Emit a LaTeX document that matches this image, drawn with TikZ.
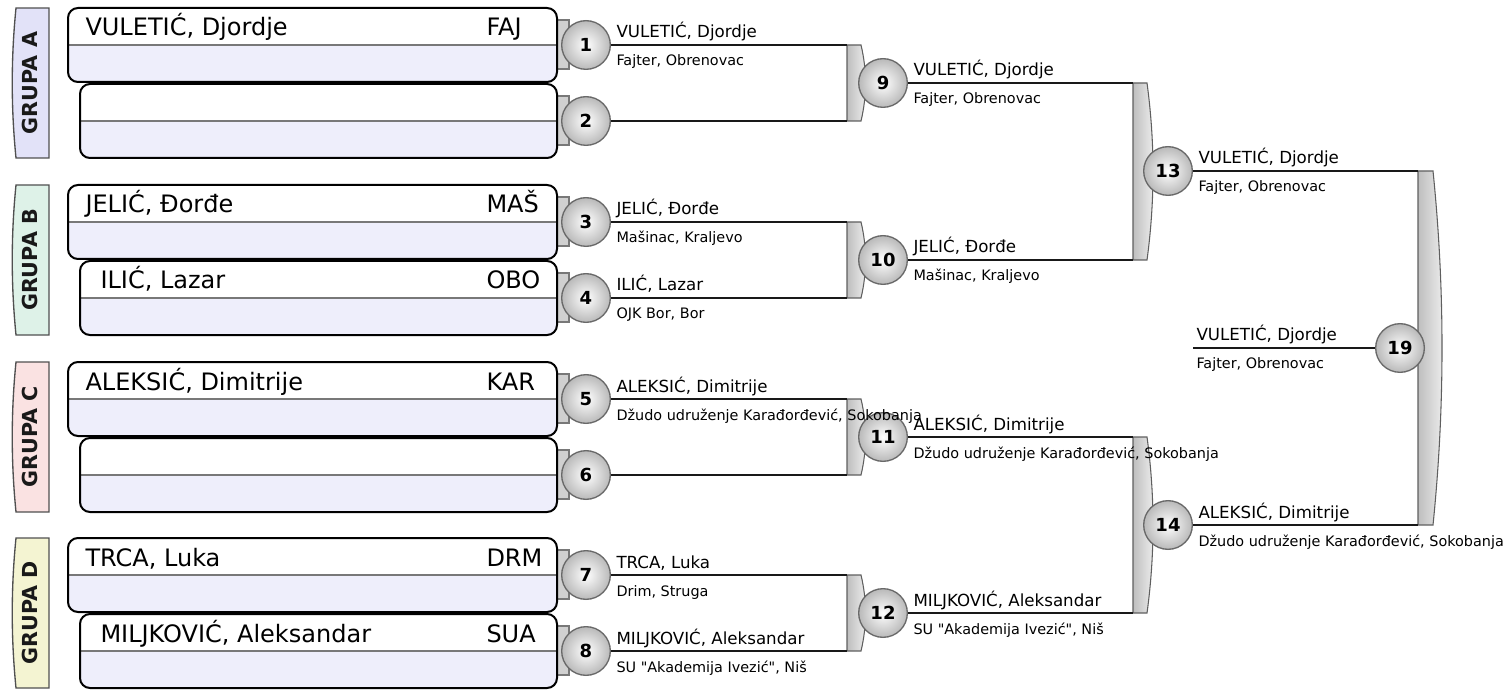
\documentclass[tikz,border=0pt]{standalone}
\usepackage{fontspec}
\setmainfont{DejaVu Sans}[Ligatures=TeXOff]
\usetikzlibrary{calc}

\definecolor{lavbot}{RGB}{238,238,251}
\definecolor{grpA}{RGB}{226,226,248}
\definecolor{grpB}{RGB}{222,242,232}
\definecolor{grpC}{RGB}{250,226,226}
\definecolor{grpD}{RGB}{244,244,210}

\tikzset{every picture/.style={line width=0.75pt},
  pbox/.style={draw=black, line width=1.5pt, rounded corners=7.5pt},
  split/.style={draw={rgb, 255:red, 120; green, 120; blue, 120}, line width=0.8pt},
  stub/.style={draw={rgb, 255:red, 120; green, 120; blue, 120}, fill={rgb, 255:red, 208; green, 208; blue, 208}, line width=0.8pt},
  bracket/.style={draw={rgb, 255:red, 95; green, 95; blue, 95}, line width=0.8pt, left color={rgb, 255:red, 190; green, 190; blue, 190}, right color={rgb, 255:red, 240; green, 240; blue, 240}},
  grptab/.style={draw={rgb, 255:red, 80; green, 80; blue, 80}, line width=1pt},
  grplabel/.style={rotate=90, inner sep=0pt, text={rgb, 255:red, 25; green, 25; blue, 25}, font=\bfseries\fontsize{15.5}{16}\selectfont},
  match/.style={circle, draw={rgb, 255:red, 105; green, 105; blue, 105}, line width=1pt, inner sep=0pt, minimum size=36.5pt, shading=radial, inner color=white, outer color={rgb, 255:red, 185; green, 185; blue, 185}, font=\bfseries\fontsize{13.5}{15}\selectfont},
  wire/.style={draw={rgb, 255:red, 25; green, 25; blue, 25}, line width=1.7pt},
  player/.style={anchor=base west, inner sep=0pt, font=\fontsize{18}{20}\selectfont},
  wname/.style={anchor=base west, inner sep=0pt, font=\fontsize{12.5}{14}\selectfont},
  wclub/.style={anchor=base west, inner sep=0pt, font=\fontsize{10.8}{12}\selectfont}
}

\begin{document}
\begin{tikzpicture}[x=0.75pt,y=0.75pt,yscale=-1,xscale=1]
\useasboundingbox (0,0) rectangle (1508,691);

% Brackets of the matches
\foreach \bx/\ya/\yb/\bw/\bb in {847/45/121/14/6, 847/222/298/14/6, 847/399/475/14/6, 847/575/651/14/6, 1133/83/260/14/8, 1133/437/613/14/8, 1418/171/525/15/12}
  \path[bracket] (\bx,\ya) -- ({\bx+\bw},\ya) .. controls ({\bx+\bw+\bb},{\ya+(\yb-\ya)/3}) and ({\bx+\bw+\bb},{\yb-(\yb-\ya)/3}) .. ({\bx+\bw},\yb) -- (\bx,\yb) -- cycle;

% Stubs behind the first round
\foreach \y in {45,121,222,298,399,475,575,651}
  \draw[stub] (555,{\y-25}) rectangle (569,{\y+24});

% Player boxes
\foreach \x/\y in {68/8, 80/84, 68/185, 80/261, 68/362, 80/438, 68/538, 80/614}{
  \begin{scope}
    \clip[rounded corners=7.5pt] (\x,\y) rectangle (557,{\y+74});
    \fill[white] (\x,\y) rectangle (557,{\y+37});
    \fill[lavbot] (\x,{\y+37}) rectangle (557,{\y+74});
  \end{scope}
  \draw[split] (\x,{\y+37}) -- (557,{\y+37});
  \draw[pbox] (\x,\y) rectangle (557,{\y+74});
}

% Group tabs
\foreach \t/\l in {8/A, 185/B, 362/C, 538/D}{
  \draw[grptab, fill=grp\l] (16,\t) -- (49,\t) -- (49,{\t+150}) -- (16,{\t+150}) .. controls (11,{\t+100}) and (11,{\t+50}) .. (16,\t) -- cycle;
  \node[grplabel] (g\l) at (30,{\t+75}) {GRUPA \l};
}

% Matches
\foreach \n/\x/\y in {1/586/45, 2/586/121, 3/586/222, 4/586/298, 5/586/399, 6/586/475, 7/586/575, 8/586/651, 9/883/83, 10/883/260, 11/883/437, 12/883/613, 13/1168/171, 14/1168/525, 19/1400/348}
  \node[match] (m\n) at (\x,\y) {\n};

\coordinate (k9) at (847,83);
\coordinate (k10) at (847,260);
\coordinate (k11) at (847,437);
\coordinate (k12) at (847,613);
\coordinate (k13) at (1133,171);
\coordinate (k14) at (1133,525);
\coordinate (k19) at (1418,348);
\coordinate (w19) at (1193,348);

% Connectors
\foreach \a/\k in {1/9, 2/9, 3/10, 4/10, 5/11, 6/11, 7/12, 8/12, 9/13, 10/13, 11/14, 12/14, 13/19, 14/19}
  \draw[wire] (m\a) -- (m\a -| k\k);
\draw[wire] (w19) -- (m19);

% Players in the groups
\foreach \i/\x/\y/\nm/\cd in {1/85/36/{VULETIĆ, Djordje}/FAJ, 3/85/213/{JELIĆ, Đorđe}/MAŠ, 4/100/289/{ILIĆ, Lazar}/OBO, 5/85/390/{ALEKSIĆ, Dimitrije}/KAR, 7/85/566/{TRCA, Luka}/DRM, 8/100/642/{MILJKOVIĆ, Aleksandar}/SUA}{
  \node[player] (p\i) at (\x,\y) {\nm};
  \node[player] (c\i) at (486,\y) {\cd};
}

% Winners
\foreach \m/\nm/\cl in {1/{VULETIĆ, Djordje}/{Fajter, Obrenovac}, 3/{JELIĆ, Đorđe}/{Mašinac, Kraljevo}, 4/{ILIĆ, Lazar}/{OJK Bor, Bor}, 5/{ALEKSIĆ, Dimitrije}/{Džudo udruženje Karađorđević, Sokobanja}, 7/{TRCA, Luka}/{Drim, Struga}, 8/{MILJKOVIĆ, Aleksandar}/{SU "Akademija Ivezić", Niš}, 9/{VULETIĆ, Djordje}/{Fajter, Obrenovac}, 10/{JELIĆ, Đorđe}/{Mašinac, Kraljevo}, 11/{ALEKSIĆ, Dimitrije}/{Džudo udruženje Karađorđević, Sokobanja}, 12/{MILJKOVIĆ, Aleksandar}/{SU "Akademija Ivezić", Niš}, 13/{VULETIĆ, Djordje}/{Fajter, Obrenovac}, 14/{ALEKSIĆ, Dimitrije}/{Džudo udruženje Karađorđević, Sokobanja}}{
  \node[wname] (t\m) at ($(m\m.east)+(5,-7)$) {\nm};
  \node[wclub] (s\m) at ($(m\m.east)+(5,21)$) {\cl};
}
\node[wname] (t19) at ($(w19)+(3,-8)$) {VULETIĆ, Djordje};
\node[wclub] (s19) at ($(w19)+(3,20)$) {Fajter, Obrenovac};

\end{tikzpicture}
\end{document}
